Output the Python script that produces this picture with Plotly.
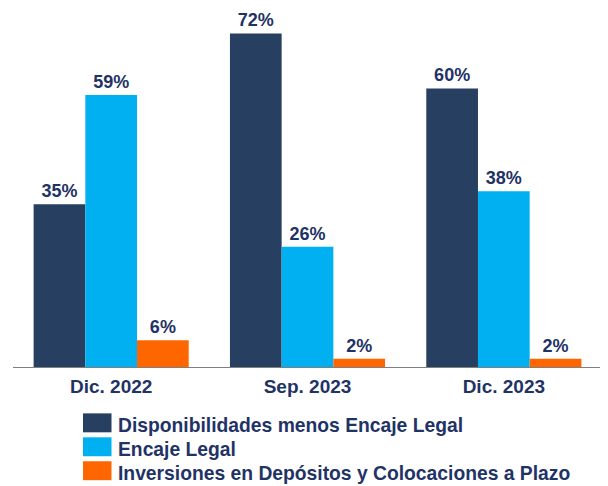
import plotly.graph_objects as go

categories = ["Dic. 2022", "Sep. 2023", "Dic. 2023"]
series_names = [
    "Disponibilidades menos Encaje Legal",
    "Encaje Legal",
    "Inversiones en Depósitos y Colocaciones a Plazo",
]
disponibilidades = [35.2, 72.1, 60.2]
encaje = [58.8, 26.0, 38.0]
inversiones = [5.8, 1.8, 1.8]
colors = ["#273F60", "#00B0F0", "#FF6600"]
text_color = "#1F3366"
FONT = "Liberation Sans, Arial, sans-serif"

# page body has an 8px margin: figure occupies (8,8) onwards in the window
OFF = 8
W, H = 600, 478
# reference pixel geometry (window coords)
PL, PR, PB, PT = 13, 602, 367.5, 10.5
ML = PL - OFF
MR = (W + OFF) - PR
MT = PT - OFF
MB = (H + OFF) - PB
plot_w = W - ML - MR
plot_h = H - MT - MB


def px_x(x):
    return (x - PL) / plot_w


def px_y(y):
    return (PB - y) / plot_h


fig = go.Figure()
for name, vals, col in zip(series_names, [disponibilidades, encaje, inversiones], colors):
    fig.add_trace(go.Bar(
        name=name, x=categories, y=vals,
        marker=dict(color=col, line=dict(width=0)),
        texttemplate="%{y:.0f}%", textposition="outside",
        textfont=dict(family=FONT, size=18, color=text_color, weight="bold"),
        cliponaxis=False,
    ))

fig.update_layout(
    width=W, height=H,
    margin=dict(l=ML, r=MR, t=MT, b=MB, autoexpand=False),
    barmode="group", bargap=0.21, bargroupgap=0,
    plot_bgcolor="white", paper_bgcolor="white",
    showlegend=False,
    font=dict(family=FONT),
)
fig.update_xaxes(
    showline=True, linecolor="#7F7F7F", linewidth=1,
    ticks="", showgrid=False, automargin=False,
    tickfont=dict(family=FONT, size=19, color=text_color, weight="bold"),
    ticklabelstandoff=2,
)
fig.update_yaxes(range=[0, plot_h / 4.64], visible=False, showgrid=False)

# custom legend
row_centers = [423.5, 447.5, 471.5]
for name, col, yc in zip(series_names, colors, row_centers):
    fig.add_shape(type="rect", xref="paper", yref="paper",
                  x0=px_x(83), x1=px_x(111.5), y0=px_y(yc + 9.5), y1=px_y(yc - 9.5),
                  fillcolor=col, line=dict(width=0))
    fig.add_annotation(xref="paper", yref="paper", x=px_x(116), y=px_y(yc + 3),
                       xanchor="left", yanchor="middle", showarrow=False,
                       text=name,
                       font=dict(family=FONT, size=19.3, color=text_color, weight="bold"))

fig.write_html("out.html")
